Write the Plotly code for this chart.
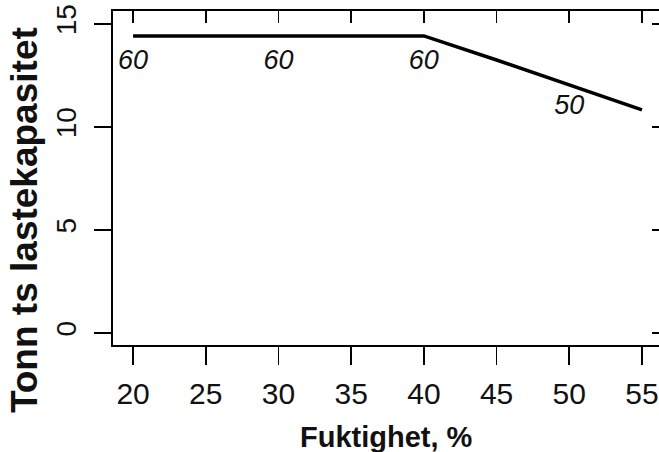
import plotly.graph_objects as go

# Data
fuktighet = [20, 30, 40, 45, 50, 55]
kapasitet = [14.42, 14.42, 14.42, 13.25, 12.04, 10.83]

label_x = [20, 30, 40, 50]
label_y = [13.16, 13.16, 13.16, 10.95]
label_text = ["60", "60", "60", "50"]

x_ticks = [20, 25, 30, 35, 40, 45, 50, 55]
y_ticks = [0, 5, 10, 15]

x_title = "Fuktighet, %"
y_title = "Tonn ts lastekapasitet"

FONT = "Liberation Sans, Arial, sans-serif"
XR = [18.62, 56.17]
YR = [-0.583, 15.63]

fig = go.Figure()
fig.add_trace(go.Scatter(
    x=fuktighet, y=kapasitet, mode="lines",
    line=dict(color="black", width=3.5), showlegend=False, hoverinfo="skip"))
# helper trace so the mirrored axes (top / right) are rendered
fig.add_trace(go.Scatter(
    x=fuktighet, y=kapasitet, mode="lines", xaxis="x2", yaxis="y2",
    line=dict(color="rgba(0,0,0,0)", width=0), showlegend=False, hoverinfo="skip"))

fig.add_trace(go.Scatter(
    x=label_x, y=label_y, mode="text", text=label_text,
    textfont=dict(family=FONT, size=27, color="#111", style="italic"),
    showlegend=False, hoverinfo="skip"))

axis_common = dict(showgrid=False, zeroline=False, linecolor="black",
                   tickcolor="black", tickwidth=1.8, fixedrange=True)

fig.update_layout(
    width=659, height=452,
    margin=dict(l=113, r=0, t=11, b=107),
    paper_bgcolor="white", plot_bgcolor="white",
    font=dict(family=FONT, color="#111"),
    xaxis=dict(range=XR, autorange=False, tickvals=x_ticks,
               ticktext=[str(v) for v in x_ticks],
               ticks="outside", ticklen=18, showline=True, linewidth=2,
               tickfont=dict(size=30, family=FONT, color="#111"),
               ticklabelstandoff=3, **axis_common),
    yaxis=dict(range=YR, autorange=False, tickvals=y_ticks,
               ticktext=[str(v) for v in y_ticks],
               ticks="outside", ticklen=17, showline=True, linewidth=2,
               tickangle=-90,
               tickfont=dict(size=28, family=FONT, color="#111"),
               ticklabelstandoff=7, **axis_common),
    xaxis2=dict(range=XR, autorange=False, overlaying="x", side="top",
                tickvals=x_ticks, ticks="inside", ticklen=12,
                showticklabels=False, showline=True, linewidth=2,
                **axis_common),
    yaxis2=dict(range=YR, autorange=False, overlaying="y", side="right",
                tickvals=y_ticks, ticks="inside", ticklen=7,
                showticklabels=False, showline=False, **axis_common),
    annotations=[
        dict(text=x_title, xref="paper", yref="paper", x=0.5, y=-0.275,
             xanchor="center", yanchor="middle", showarrow=False,
             font=dict(size=29, family=FONT, color="#111", weight="bold")),
        dict(text=y_title, xref="paper", yref="paper", x=-0.163, y=0.374,
             xanchor="center", yanchor="middle", showarrow=False, textangle=-90,
             font=dict(size=37, family=FONT, color="#111", weight="bold")),
    ],
)

fig.write_html(
    "out.html",
    config={"displayModeBar": False, "staticPlot": True},
    post_script="document.body.style.margin='0';"
                "document.body.style.overflow='hidden';"
                "document.documentElement.style.overflow='hidden';",
)
